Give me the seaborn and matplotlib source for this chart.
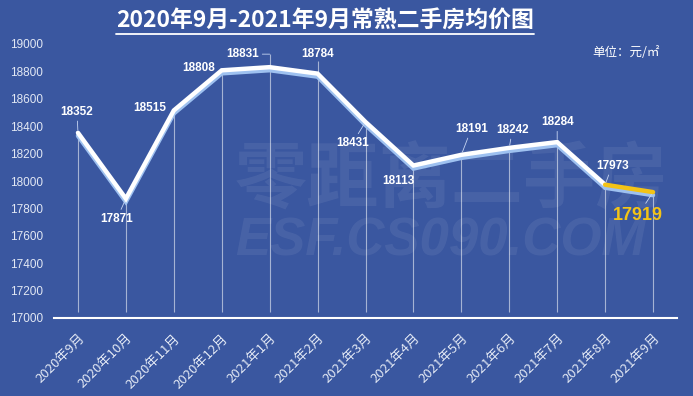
import matplotlib
matplotlib.use('Agg')
import matplotlib.pyplot as plt
import matplotlib.patheffects as pe
from matplotlib.lines import Line2D
import seaborn as sns
import pandas as pd
import numpy as np

months = ['2020年9月', '2020年10月', '2020年11月', '2020年12月', '2021年1月', '2021年2月',
          '2021年3月', '2021年4月', '2021年5月', '2021年6月', '2021年7月', '2021年8月', '2021年9月']
prices = [18352, 17871, 18515, 18808, 18831, 18784, 18431, 18113, 18191, 18242, 18284, 17973, 17919]
y_ticks = [17000, 17200, 17400, 17600, 17800, 18000, 18200, 18400, 18600, 18800, 19000]
title = '2020年9月-2021年9月常熟二手房均价图'
unit_text = '单位：元/㎡'
watermark_cn = '零距离二手房'
watermark_en = 'ESF.CS090.COM'

BG = '#3a57a0'
YELLOW = '#f3c316'
SHADOW = '#9ec1f0'

sns.set_theme(style='white')
plt.rcParams['font.family'] = ['Liberation Sans', 'Noto Sans CJK SC', 'DejaVu Sans']

df = pd.DataFrame({'idx': np.arange(len(months)), 'month': months, 'price': prices})

fig = plt.figure(figsize=(6.93, 3.96), dpi=100, facecolor=BG)
ax = fig.add_axes([54 / 693, 1 - 318 / 396, 623 / 693, 274 / 396])
ax.set_facecolor(BG)
ax.set_xlim(-0.5, len(months) - 0.5)
ax.set_ylim(y_ticks[0], y_ticks[-1])

# watermark
ax.text(0.29, 0.50, watermark_cn, transform=ax.transAxes, fontsize=52, fontweight='bold',
        color='white', alpha=0.07, family=['Noto Sans CJK SC'], va='center', ha='left', zorder=0)
ax.text(0.29, 0.28, watermark_en, transform=ax.transAxes, fontsize=38, fontweight='bold',
        style='italic', color='white', alpha=0.07, va='center', ha='left', zorder=0)

# vertical drop lines
ax.vlines(df['idx'], y_ticks[0] + 45, df['price'], colors='white', alpha=0.55, lw=0.8, zorder=1)

shadow_fx = [pe.SimpleLineShadow(offset=(0, -2.2), shadow_color=SHADOW, alpha=1.0), pe.Normal()]
sns.lineplot(data=df.iloc[:len(months) - 1], x='idx', y='price', color='white', lw=3.2,
             ax=ax, path_effects=shadow_fx, zorder=3, solid_joinstyle='miter', sort=False)
sns.lineplot(data=df.iloc[len(months) - 2:], x='idx', y='price', color=YELLOW, lw=3.2,
             ax=ax, path_effects=shadow_fx, zorder=4, sort=False)

# label offsets in pixels (dx, dy, leader type)
offsets = [(-1, 21, 'd'), (-9, -20, 'd'), (-24, 2, None), (-23, 2, None), (-27, 13, 'h'),
           (0, 20, 'v'), (-13, -21, 'd'), (-15, -15, None), (10, 26, 'd'), (3, 18, 'd'),
           (0, 20, 'd'), (7, 19, 'd'), (-15, -23, 'd')]
leader_kw = dict(arrowstyle='-', color='#c6d5f2', lw=0.6, shrinkA=0, shrinkB=2)
inv = ax.transData.inverted()
n = len(months)
for i, (v, (dx, dy, lead)) in enumerate(zip(prices, offsets)):
    last = i == n - 1
    kw = dict(textcoords='offset pixels', ha='center', va='center', fontweight='bold',
              color=YELLOW if last else 'white', fontsize=13 if last else 8.5, zorder=6)
    if lead == 'h':
        ytop = inv.transform(ax.transData.transform((i, v)) + np.array([0, dy]))[1]
        ax.vlines([i], v, ytop, colors='white', alpha=0.55, lw=0.8, zorder=1)
        ax.annotate(str(v), xy=(i, ytop), xytext=(dx, 0),
                    arrowprops=dict(leader_kw, shrinkB=0), **kw)
    elif lead == 'v':
        ytop = inv.transform(ax.transData.transform((i, v)) + np.array([0, dy - 7]))[1]
        ax.vlines([i], v, ytop, colors='white', alpha=0.55, lw=0.8, zorder=1)
        ax.annotate(str(v), xy=(i, v), xytext=(dx, dy), **kw)
    elif lead == 'd':
        ax.annotate(str(v), xy=(i, v), xytext=(dx, dy), arrowprops=leader_kw, **kw)
    else:
        ax.annotate(str(v), xy=(i, v), xytext=(dx, dy), **kw)

# axes styling
for s in ['top', 'right', 'left']:
    ax.spines[s].set_visible(False)
ax.spines['bottom'].set_color('white')
ax.spines['bottom'].set_linewidth(1.5)
ax.set_yticks(y_ticks)
ax.set_yticklabels([str(t) for t in y_ticks], color='#e2e8f4', fontsize=8.5)
ax.tick_params(axis='y', length=0, pad=8)
ax.set_xticks(df['idx'])
ax.set_xticklabels(months, rotation=45, ha='right', rotation_mode='anchor',
                   color='#e2e8f4', fontsize=9.5, family=['Noto Sans CJK SC'])
ax.tick_params(axis='x', which='major', length=0, pad=10)
ax.set_xticks(np.arange(-0.5, n, 1.0), minor=True)
ax.tick_params(axis='x', which='minor', length=5, width=1.2, color='white', direction='out')
ax.set_xlabel('')
ax.set_ylabel('')
ax.grid(False)

# title with underline
t = fig.text(325 / 693, 1 - 21 / 396, title, ha='center', va='center', fontsize=16.5,
             fontweight='bold', color='white', family=['Noto Sans CJK SC'])
fig.canvas.draw()
bb = t.get_window_extent(renderer=fig.canvas.get_renderer())
fy = (bb.y0 - 1) / fig.bbox.height
fig.add_artist(Line2D([bb.x0 / fig.bbox.width, bb.x1 / fig.bbox.width], [fy, fy],
                      color='white', lw=1.3, transform=fig.transFigure))

fig.text(660 / 693, 1 - 52 / 396, unit_text, ha='right', va='center', fontsize=9,
         color='white', family=['Noto Sans CJK SC', 'DejaVu Sans'])

fig.savefig('out.png', dpi=100, facecolor=BG)
